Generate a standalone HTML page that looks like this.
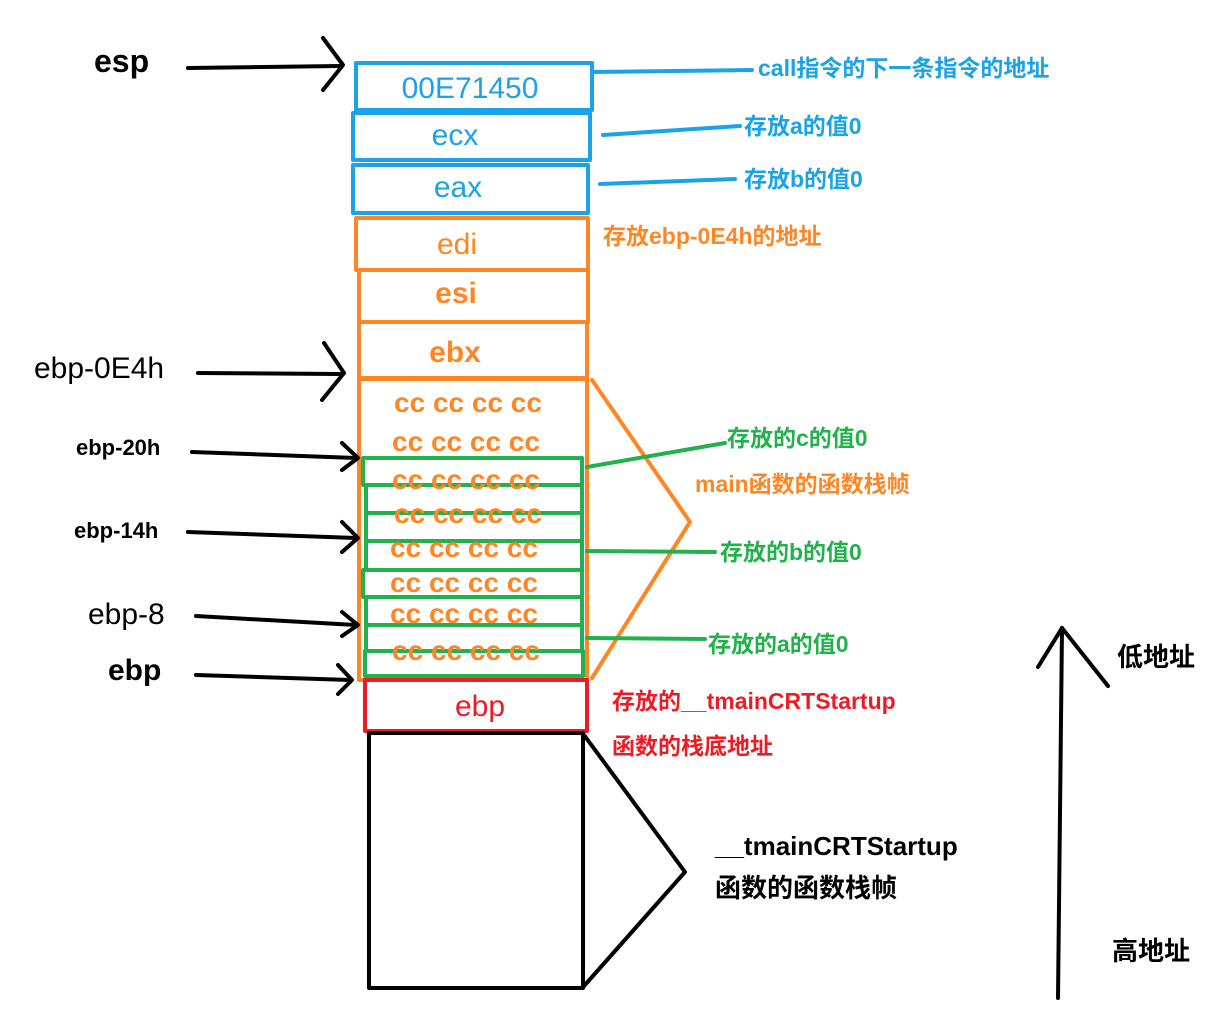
<!DOCTYPE html>
<html><head><meta charset="utf-8"><style>
html,body{margin:0;padding:0;background:#fff;}
svg text{font-family:"Liberation Sans","Noto Sans CJK SC",sans-serif;}
</style></head><body>
<svg width="1221" height="1018" viewBox="0 0 1221 1018" xmlns="http://www.w3.org/2000/svg">
<g fill="none" stroke-linecap="round" stroke-linejoin="round">
<!-- blue boxes -->
<g stroke="#1aa3e8" stroke-width="4">
<rect x="356" y="63" width="236" height="47"/>
<rect x="353" y="113" width="237" height="47"/>
<rect x="353" y="165" width="235" height="48"/>
<line x1="592" y1="72" x2="752" y2="70"/>
<line x1="603" y1="135" x2="740" y2="126"/>
<line x1="600" y1="184" x2="735" y2="179"/>
</g>
<!-- orange -->
<g stroke="#ff8624" stroke-width="4">
<rect x="356" y="218" width="232" height="52"/>
<rect x="359" y="270" width="229" height="52"/>
<rect x="359" y="322" width="228" height="56"/>
<rect x="359" y="379" width="228" height="301"/>
<polyline points="592,380 690,522 592,678"/>
</g>
<!-- green -->
<g stroke="#22b14c" stroke-width="4">
<rect x="363" y="458" width="219" height="27"/>
<rect x="366" y="485" width="216" height="28"/>
<rect x="366" y="513" width="216" height="28"/>
<rect x="366" y="541" width="216" height="29"/>
<rect x="363" y="570" width="219" height="27"/>
<rect x="366" y="597" width="216" height="28"/>
<rect x="366" y="625" width="216" height="26"/>
<rect x="365" y="651" width="218" height="25"/>
<line x1="587" y1="467" x2="725" y2="443"/>
<line x1="587" y1="551" x2="715" y2="552"/>
<line x1="587" y1="638" x2="705" y2="639"/>
</g>
<!-- red -->
<rect x="365" y="680" width="222" height="51" stroke="#ed1c24" stroke-width="4"/>
<!-- black -->
<g stroke="#000" stroke-width="4">
<rect x="369" y="733" width="214" height="255"/>
<polyline points="584,735 685,872 584,986"/>
<line x1="1058" y1="998" x2="1062" y2="628"/>
<polyline points="1038,667 1062,628 1108,686"/>
<line x1="188" y1="68" x2="340" y2="66"/><polyline points="323,38 343,65 323,90"/>
<line x1="198" y1="373" x2="340" y2="374"/><polyline points="324,343 344,373 322,400"/>
<line x1="192" y1="452" x2="356" y2="458"/><polyline points="342,443 358,458 342,470"/>
<line x1="188" y1="532" x2="356" y2="538"/><polyline points="342,522 358,538 342,552"/>
<line x1="196" y1="616" x2="356" y2="625"/><polyline points="342,612 358,625 342,636"/>
<line x1="196" y1="675" x2="350" y2="680"/><polyline points="338,665 352,680 338,694"/>
</g>
</g>
<!-- box text -->
<g text-anchor="middle" font-size="30">
<text x="470" y="98" fill="#1aa3e8">00E71450</text>
<text x="455" y="145" fill="#1aa3e8">ecx</text>
<text x="458" y="197" fill="#1aa3e8">eax</text>
<text x="457" y="254" fill="#ff8624">edi</text>
<text x="456" y="303" fill="#ff8624" font-weight="bold">esi</text>
<text x="455" y="362" fill="#ff8624" font-weight="bold">ebx</text>
<text x="480" y="716" fill="#ed1c24">ebp</text>
</g>
<g fill="#ff8624" font-weight="bold" font-size="28" text-anchor="middle">
<text x="468" y="412">cc cc cc cc</text>
<text x="466" y="451">cc cc cc cc</text>
<text x="466" y="489">cc cc cc cc</text>
<text x="468" y="523">cc cc cc cc</text>
<text x="464" y="557">cc cc cc cc</text>
<text x="464" y="592">cc cc cc cc</text>
<text x="464" y="623">cc cc cc cc</text>
<text x="466" y="660">cc cc cc cc</text>
</g>
<!-- left labels -->
<g fill="#000">
<text x="94" y="72" font-size="32" font-weight="bold">esp</text>
<text x="34" y="378" font-size="30">ebp-0E4h</text>
<text x="76" y="455" font-size="22" font-weight="bold">ebp-20h</text>
<text x="74" y="538" font-size="22" font-weight="bold">ebp-14h</text>
<text x="88" y="624" font-size="30">ebp-8</text>
<text x="108" y="680" font-size="30" font-weight="bold">ebp</text>
</g>
<!-- right labels -->
<g font-weight="bold" font-size="23">
<text x="758" y="76" fill="#1aa3e8">call指令的下一条指令的地址</text>
<text x="744" y="134" fill="#1aa3e8">存放a的值0</text>
<text x="744" y="187" fill="#1aa3e8">存放b的值0</text>
<text x="603" y="244" fill="#ff8624">存放ebp-0E4h的地址</text>
<text x="727" y="446" fill="#22b14c">存放的c的值0</text>
<text x="695" y="492" fill="#ff8624">main函数的函数栈帧</text>
<text x="720" y="560" fill="#22b14c">存放的b的值0</text>
<text x="708" y="652" fill="#22b14c">存放的a的值0</text>
<text x="612" y="709" fill="#ed1c24">存放的__tmainCRTStartup</text>
<text x="612" y="754" fill="#ed1c24">函数的栈底地址</text>
<text x="715" y="855" fill="#000" font-size="26">__tmainCRTStartup</text>
<text x="715" y="897" fill="#000" font-size="26">函数的函数栈帧</text>
<text x="1117" y="666" fill="#000" font-size="26">低地址</text>
<text x="1112" y="960" fill="#000" font-size="26">高地址</text>
</g>
</svg>
</body></html>
